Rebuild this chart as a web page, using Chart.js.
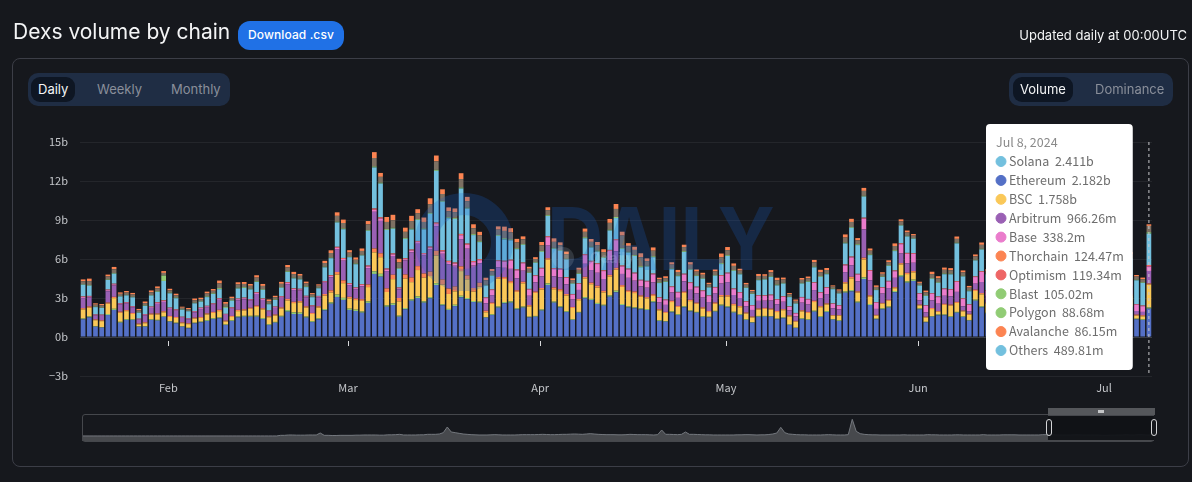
<!DOCTYPE html>
<html>
<head>
<meta charset="utf-8">
<title>Dexs volume by chain</title>
<script src="https://cdn.jsdelivr.net/npm/chart.js@4"></script>
<style>
    html, body { margin: 0; padding: 0; background: #16181d; width: 1192px; height: 482px; overflow: hidden; font-family: Inter, sans-serif; }
    .abs { position: absolute; box-sizing: border-box; }
    #title { left: 13px; top: 18px; font-size: 21px; color: #f4f5f6; line-height: 28px; white-space: nowrap; }
    #download { left: 238px; top: 21px; width: 106px; height: 29px; background: #2071e6; border-radius: 12px; color: #fff; font-size: 12px; font-weight: 500; line-height: 28px; text-align: center; letter-spacing: .1px; }
    #updated { right: 5px; top: 26px; font-size: 13px; color: #f4f5f6; line-height: 18px; white-space: nowrap; }
    #panel { left: 12px; top: 58px; width: 1177px; height: 409px; border: 1px solid #3c3e47; border-radius: 8px; }
    .tabs { top: 73px; height: 33px; background: #1f2d44; border-radius: 10px; }
    .active { top: 77px; height: 25px; background: #0e1623; border-radius: 9px; }
    .tab { top: 80px; font-size: 13px; line-height: 19px; color: #8a8f9a; white-space: nowrap; }
    .tab.on { color: #f4f5f6; }
    #chart, #minimap { position: absolute; }
    #chart { left: 0; top: 0; }
    #minimap { left: 82px; top: 415px; }
    #watermark { left: 400px; top: 185px; pointer-events: none; }
    #frame { left: 82px; top: 414px; width: 1072px; height: 28px; border: 1.5px solid #45474c; border-radius: 3px; }
    #selection { left: 1048px; top: 415px; width: 106px; height: 25px; background: rgba(16,18,22,.94); border-top: 1px solid #45474c; }
    #mover { left: 1048px; top: 408px; width: 107px; height: 7px; background: #55575b; }
    #grip { left: 1098px; top: 410px; width: 6px; height: 3px; background: #c4c5c7; }
    .handle { top: 419px; width: 6px; height: 17px; border: 1.5px solid #d4d5d7; border-radius: 3px; background: #16181d; }
</style>
</head>
<body>
<canvas id="chart" width="1192" height="482"></canvas>

<div class="abs" id="title">Dexs volume by chain</div>
<div class="abs" id="download">Download .csv</div>
<div class="abs" id="updated">Updated daily at 00:00UTC</div>
<div class="abs" id="panel"></div>

<div class="abs tabs" style="left:28px;width:202px"></div>
<div class="abs active" style="left:31px;width:44px"></div>
<div class="abs tab on" style="left:38px">Daily</div>
<div class="abs tab" style="left:97px">Weekly</div>
<div class="abs tab" style="left:171px">Monthly</div>

<div class="abs tabs" style="left:1009px;width:164px"></div>
<div class="abs active" style="left:1013px;width:60px"></div>
<div class="abs tab on" style="left:1020px">Volume</div>
<div class="abs tab" style="left:1095px">Dominance</div>

<canvas id="minimap" width="1072" height="26"></canvas>
<div class="abs" id="frame"></div>
<div class="abs" id="selection"></div>
<div class="abs" id="mover"></div>
<div class="abs" id="grip"></div>
<div class="abs handle" style="left:1046px"></div>
<div class="abs handle" style="left:1151px"></div>

<svg class="abs" id="watermark" width="390" height="110">
    <circle cx="64" cy="57" r="38" fill="none" stroke="rgba(25,95,200,0.24)" stroke-width="22"/>
    <text x="147" y="85" font-family="Inter" font-weight="700" font-size="87" textLength="228" lengthAdjust="spacingAndGlyphs" fill="rgba(25,95,200,0.24)">DAILY</text>
    <circle cx="163" cy="73" r="11" fill="rgba(200,215,235,0.16)"/>
    <text x="190" y="78" font-family="Inter" font-weight="700" font-size="14" fill="rgba(200,215,235,0.22)">Odaily</text>
</svg>

<script>
// Daily volume in billions of USD, Jan 18 to Jul 8 2024. Bars 147-170 sit behind the tooltip.
const ethereum = [
    1.36,1.51,.79,.72,1.69,2.08,1.10,1.31,1.31,.79,
    .79,1.31,1.26,1.54,1.18,1.05,.79,.67,1.05,1.13,
    1.23,1.38,1.44,.92,1.23,1.51,1.56,1.56,1.56,1.38,
    .92,1.10,1.56,1.95,1.77,1.77,1.49,1.15,1.36,2.05,
    2.56,3.08,2.85,2.08,2.00,1.87,2.62,4.85,4.64,2.33,
    2.46,1.56,2.13,2.79,3.00,2.64,2.97,4.00,2.44,2.08,
    2.38,3.05,2.90,2.69,2.64,1.49,1.69,2.26,2.59,2.64,
    2.13,2.26,1.51,1.56,2.03,4.00,2.64,2.28,1.92,1.31,
    1.87,2.97,2.85,2.54,2.41,3.10,3.44,2.46,2.28,2.21,
    2.13,2.08,2.67,1.23,1.18,1.90,1.69,2.28,1.97,1.87,
    1.54,1.51,1.95,2.41,2.28,1.87,1.69,1.31,1.10,1.56,
    1.56,1.56,1.36,1.44,.92,.69,1.38,1.31,1.95,1.54,
    1.92,1.33,1.23,3.41,3.51,2.64,4.46,2.46,1.36,2.13,
    2.26,3.44,4.64,4.18,4.31,2.13,1.13,1.56,1.67,1.67,
    1.54,1.87,1.54,1.26,2.79,2.28,
    1.8,1.6,1.9,2.4,2.0,1.5,1.7,1.4,1.6,2.1,2.6,1.9,1.5,1.7,1.3,1.5,1.8,2.2,1.7,1.4,1.2,1.5,1.9,2.3,
    1.36,1.31,2.182
];
const polygon = [
    .06,.07,.04,.04,.08,.09,.07,.06,.05,.03,
    .04,.05,.06,.05,.05,.05,.04,.04,.05,.05,
    .06,.06,.06,.04,.05,.07,.07,.07,.08,.07,
    .06,.06,.07,.12,.12,.1,.08,.06,.08,.1,
    .1,.18,.16,.1,.1,.09,.12,.2,.22,.1,
    .12,.08,.1,.1,.12,.1,.1,.14,.08,.08,
    .1,.12,.1,.08,.08,.05,.06,.08,.1,.1,
    .08,.08,.05,.06,.08,.12,.08,.07,.06,.05,
    .06,.1,.08,.08,.07,.1,.12,.08,.08,.07,
    .07,.07,.08,.05,.05,.07,.06,.08,.07,.06,
    .05,.05,.06,.08,.08,.07,.06,.05,.04,.06,
    .06,.05,.05,.06,.04,.03,.05,.05,.07,.06,
    .07,.05,.05,.09,.1,.08,.12,.08,.05,.07,
    .08,.1,.12,.1,.1,.07,.04,.05,.06,.06,
    .05,.06,.05,.05,.08,.08,
    .07,.06,.07,.08,.07,.05,.06,.05,.06,.07,.08,.07,.05,.06,.05,.05,.07,.08,.06,.05,.05,.05,.07,.08,
    .05,.05,.08868
];
const bsc = [
    .7,.67,.46,.46,.79,.82,.69,.62,.41,.15,
    .23,.36,.41,.31,.31,.36,.23,.28,.31,.28,
    .44,.41,.49,.23,.26,.41,.41,.54,.67,.67,
    .54,.49,.56,.74,.72,.79,.69,.56,.82,1.03,
    .77,1.54,1.13,.79,.74,.82,1.10,1.46,1.28,1.03,
    1.87,1.10,2.26,1.33,2.03,1.82,1.62,2.13,1.51,1.15,
    1.03,1.90,1.44,.72,1.15,.36,.79,2.15,1.77,1.41,
    1.26,1.79,.79,1.77,1.54,1.82,.95,1.18,1.21,.87,
    .9,1.44,1.13,1.18,.95,1.46,1.62,1.31,1.10,1.10,
    .9,.82,.41,.77,.62,.72,.56,1.03,.72,.62,
    .59,.36,.54,.62,.74,.51,.54,.44,.36,.49,
    .54,.49,.51,.56,.62,.46,.54,.49,.67,.69,
    .51,.26,.36,.62,.9,.69,1.38,.56,.23,.36,
    .44,.21,.82,.56,.56,.23,.33,.54,.21,.74,
    .82,.69,.38,.41,.67,.92,
    .7,.6,.8,.9,.7,.5,.6,.5,.6,.8,1.0,.7,.5,.6,.4,.5,.7,.9,.6,.5,.4,.5,.7,.8,
    .23,.23,1.758
];
const avalanche = [
    .1,.1,.06,.06,.09,.1,.09,.08,.08,.06,
    .07,.08,.08,.08,.08,.08,.06,.06,.08,.07,
    .08,.08,.1,.07,.08,.1,.09,.08,.1,.09,
    .07,.08,.09,.12,.1,.1,.1,.08,.1,.13,
    .16,.2,.22,.12,.12,.12,.2,.3,.3,.28,
    .34,.26,.32,.36,.3,.32,.34,.36,.4,.42,
    .38,.36,.3,.28,.3,.12,.1,.12,.14,.14,
    .12,.12,.1,.1,.12,.12,.14,.14,.12,.08,
    .1,.12,.12,.14,.12,.12,.14,.14,.12,.12,
    .1,.1,.12,.08,.08,.1,.08,.1,.1,.09,
    .1,.08,.1,.12,.12,.1,.09,.08,.07,.08,
    .08,.08,.08,.08,.08,.06,.08,.08,.1,.08,
    .08,.05,.05,.1,.12,.1,.14,.1,.06,.06,
    .08,.08,.1,.1,.1,.06,.06,.08,.06,.08,
    .08,.08,.06,.06,.1,.1,
    .09,.08,.09,.11,.09,.07,.08,.07,.08,.1,.12,.09,.07,.08,.06,.07,.09,.11,.08,.07,.06,.07,.09,.1,
    .08,.08,.08615
];
const arbitrum = [
    .77,.69,.31,.36,.87,.87,.56,.51,.44,.31,
    .54,.44,.74,.72,.54,.49,.36,.31,.41,.62,
    .49,.56,.77,.44,.56,.74,.77,.56,.9,.64,
    .36,.51,.74,1.13,.9,.82,.69,.49,.69,.87,
    1.0,1.72,1.51,.9,.72,1.0,1.26,2.82,2.49,1.33,
    1.44,.67,1.08,1.92,1.72,1.38,1.69,1.9,1.97,1.85,
    1.59,2.1,2.05,1.72,1.5,.58,.58,.74,.72,.95,
    .92,.85,.72,.72,.89,.97,.85,.92,.74,.57,
    .69,1,.97,1,.91,1.11,1.28,.86,.97,.83,
    .69,.72,.92,.52,.54,.63,.62,.79,.77,.71,
    .75,.69,.69,.88,1,.68,.62,.49,.51,.59,
    .55,.62,.52,.57,.39,.34,.59,.57,.82,.62,
    .72,.51,.43,.77,.89,.77,2.18,1.15,.46,.72,
    .9,.72,.74,.72,.64,.33,.33,.59,.56,.62,
    .64,.77,.33,.21,.46,.85,
    .5,.45,.55,.7,.6,.4,.5,.35,.45,.6,.8,.55,.4,.5,.3,.4,.5,.65,.45,.35,.3,.4,.5,.6,
    .28,.26,.96626
];
const base = [
    .08,.07,.05,.05,.08,.09,.06,.07,.05,.04,
    .06,.06,.08,.07,.06,.06,.05,.05,.06,.07,
    .06,.06,.08,.05,.06,.08,.08,.07,.08,.07,
    .05,.06,.08,.09,.08,.08,.07,.06,.07,.08,
    .1,.14,.13,.09,.08,.1,.12,.16,.18,.12,
    .12,.08,.1,.15,.14,.12,.14,.16,.18,.18,
    .16,.3,.3,.27,.24,.39,.39,.49,.48,.64,
    .62,.57,.48,.48,.6,.65,.57,.62,.49,.38,
    .46,.67,.65,.67,.61,.74,.85,.58,.65,.56,
    .46,.48,.62,.35,.36,.42,.41,.53,.52,.47,
    .5,.46,.46,.59,.67,.45,.41,.33,.34,.39,
    .37,.41,.35,.38,.26,.23,.39,.38,.55,.41,
    .48,.34,.29,.52,.6,.52,.82,.74,.49,.44,
    .51,.51,.72,.74,.69,.51,.51,.51,.51,.51,
    .51,.77,.56,.49,.51,.77,
    .4,.35,.45,.55,.5,.3,.4,.3,.35,.5,.65,.45,.3,.4,.25,.3,.4,.55,.35,.3,.25,.3,.4,.5,
    .49,.44,.3382
];
const optimism = [
    .05,.05,.03,.03,.05,.05,.04,.04,.04,.03,
    .04,.04,.05,.05,.04,.04,.03,.03,.04,.04,
    .04,.04,.05,.03,.04,.05,.05,.04,.05,.04,
    .03,.04,.05,.06,.05,.05,.05,.04,.04,.05,
    .06,.08,.08,.06,.05,.06,.08,.1,.1,.08,
    .08,.06,.07,.08,.08,.08,.1,.12,.1,.1,
    .09,.1,.1,.08,.08,.05,.05,.06,.07,.07,
    .07,.06,.05,.05,.06,.07,.07,.06,.06,.05,
    .05,.07,.06,.06,.06,.07,.08,.07,.06,.06,
    .05,.05,.06,.05,.05,.05,.05,.06,.05,.05,
    .05,.04,.05,.06,.06,.05,.05,.05,.04,.05,
    .05,.05,.05,.05,.04,.04,.05,.05,.05,.05,
    .05,.04,.04,.07,.07,.06,.08,.06,.04,.05,
    .05,.06,.07,.07,.06,.04,.04,.05,.05,.05,
    .05,.06,.05,.04,.05,.06,
    .05,.05,.05,.06,.05,.04,.05,.04,.05,.05,.07,.05,.04,.05,.04,.04,.05,.06,.05,.04,.04,.04,.05,.06,
    .05,.05,.11934
];
const solana = [
    .9,.79,.56,.51,.74,.77,.51,.51,.67,.46,
    .62,.85,.79,1.49,1.1,.85,.54,.54,.59,.46,
    .67,.72,.69,.46,.51,.77,.74,.74,.79,.67,
    .49,.51,.64,.79,.77,.72,.67,.62,.59,1.05,
    1.31,1.87,2.21,2,1.79,2.21,2.67,3.15,2.59,2.97,
    1.9,1.44,1.49,1.54,1.62,1.82,2.51,3.97,3.72,3.28,
    3.36,3.49,2.69,2,1.31,.92,1.05,1.87,1.64,1.49,
    1.56,1.36,1.23,.97,1.23,1.56,1.49,1.36,1.36,.79,
    .72,1.23,1.03,.9,.97,1.49,1.62,1.28,1.23,1.28,
    .97,1.1,1.26,1.1,1.36,1.33,1.21,1.67,.97,.82,
    .9,.62,.87,.85,1.28,1.36,1.36,1.03,.85,1.15,
    1.21,1.36,1.05,.97,.72,.72,1.03,1.31,1.15,1.18,
    1,1.1,.9,1.62,2.21,2.21,1.62,1.15,.92,.79,
    1.15,1.49,1.36,1.26,1.1,.59,.72,1.1,1.05,1.1,
    1.13,2.9,1.69,1,1.23,1.67,
    1.2,1.0,1.3,1.7,1.4,.9,1.1,.9,1.0,1.4,1.9,1.3,.9,1.1,.8,1.0,1.3,1.7,1.1,.9,.8,1.0,1.3,1.6,
    1.82,1.74,2.411
];
const blast = [
    .04,.05,.03,.03,.04,.05,.03,.04,.04,.03,
    .04,.04,.05,.42,.05,.05,.03,.03,.04,.04,
    .05,.05,.08,.08,.05,.06,.06,.05,.05,.05,
    .04,.04,.05,.05,.05,.05,.05,.04,.04,.05,
    .05,.06,.06,.05,.05,.05,.06,.08,.07,.07,
    .07,.06,.07,.07,.06,.07,.08,.08,.07,.07,
    .07,.08,.07,.07,.06,.05,.05,.07,.09,.07,
    .06,.06,.05,.05,.07,.06,.07,.06,.06,.05,
    .05,.07,.06,.07,.06,.07,.08,.07,.06,.06,
    .07,.06,.07,.05,.05,.05,.05,.06,.06,.05,
    .05,.04,.05,.07,.06,.06,.05,.04,.04,.05,
    .05,.05,.06,.05,.04,.04,.05,.05,.06,.06,
    .05,.04,.04,.06,.06,.06,.06,.05,.04,.04,
    .05,.06,.05,.05,.04,.04,.05,.06,.05,.05,
    .05,.05,.05,.05,.05,.06,
    .05,.05,.05,.06,.05,.04,.05,.04,.05,.05,.06,.05,.04,.05,.04,.04,.05,.06,.05,.04,.04,.04,.05,.05,
    .05,.05,.10502
];
const others = [
    .23,.3,.16,.17,.23,.29,.17,.18,.18,.16,
    .18,.21,.23,.2,.18,.18,.12,.13,.2,.16,
    .23,.2,.36,.23,.16,.26,.25,.23,.29,.25,
    .2,.17,.25,.3,.28,.23,.23,.17,.16,.28,
    .35,.45,.42,.3,.29,.3,.43,.65,.45,.54,
    .58,.43,.47,.58,.46,.5,.67,.65,.53,.46,
    .45,.65,.5,.46,.45,.35,.3,.42,.56,.53,
    .45,.37,.27,.24,.43,.39,.46,.37,.35,.23,
    .27,.42,.37,.42,.37,.52,.62,.95,.42,.41,
    .7,.36,.43,.23,.24,.3,.27,.32,.33,.29,
    .26,.2,.27,.46,.39,.32,.24,.21,.17,.27,
    .23,.3,.33,.26,.17,.17,.24,.23,.32,.3,
    .27,.16,.17,.39,.39,.3,.38,.29,.2,.2,
    .24,.33,.27,.26,.2,.16,.23,.3,.29,.29,
    .27,.3,.26,.23,.26,.3,
    .22,.2,.24,.3,.24,.18,.2,.17,.2,.26,.34,.24,.17,.2,.15,.18,.24,.3,.2,.17,.15,.18,.24,.28,
    .24,.24,.48981
];
const thorchain = [
    .14,.19,.1,.11,.14,.18,.11,.12,.12,.1,
    .12,.14,.14,.14,.12,.12,.08,.09,.13,.1,
    .14,.13,.22,.14,.1,.16,.15,.14,.18,.15,
    .13,.11,.15,.19,.17,.14,.14,.11,.1,.17,
    .21,.27,.26,.19,.18,.19,.26,.45,.3,.38,
    .42,.28,.32,.4,.3,.34,.45,.45,.36,.3,
    .28,.45,.33,.3,.28,.2,.17,.25,.33,.33,
    .28,.22,.15,.14,.26,.22,.27,.22,.2,.13,
    .16,.25,.22,.25,.22,.3,.38,.3,.25,.24,
    .3,.21,.25,.13,.14,.18,.16,.18,.2,.17,
    .15,.12,.16,.28,.24,.19,.14,.13,.1,.16,
    .13,.18,.2,.15,.1,.1,.14,.13,.19,.18,
    .16,.09,.1,.24,.24,.18,.23,.17,.12,.12,
    .14,.2,.16,.15,.12,.09,.13,.18,.17,.17,
    .16,.18,.15,.13,.15,.18,
    .14,.12,.15,.18,.14,.1,.12,.1,.12,.15,.2,.14,.1,.12,.09,.1,.14,.18,.12,.1,.09,.1,.14,.16,
    .12,.12,.12447
];

// Whole history for the slider underneath, same unit
const history = [
    .1,.1,.1,.1,.1,.1,.1,.1,.1,.1,.1,.1,.1,.1,.1,.1,.1,.1,.1,.1,.1,.1,.1,.1,.1,
    .1,.1,.1,.1,.1,.1,.1,.1,.1,.1,.1,.1,.1,.1,.1,.1,.1,.1,.1,.1,.1,.1,.1,.1,.1,
    2,2,3,3,2.5,2.5,2.5,3,3,3,9,2,2,1.5,1.5,2,2,2,2,2.5,2.5,3,3,3,3,2.5,2.5,3.5,3.5,4,5,3,3,3,3,3.5,3.5,5,5,5,6,
    10,27,12,10,8,6,5,4,
    3.5,3,3,3,3.5,4,3.5,3,3,3,3,3.5,4,4,4,4,4.5,5,4.5,4,4,4.5,5,5,5.5,6,5.5,5,6,7,6,5,4.5,4,4,4,3.5,3.5,4,5,4.5,4,4,4,3.5,3,
    4,18,5,5,4.5,4,5,12,5,5,4.5,4,3.5,3.5,3,3,3,3,3,3,3.5,3.5,4,4,3.5,3,3.5,3.5,4.5,6,9,26,10,6,5,4,3.5,3.5,3,3,3,3,3.5,4,3.5,3,3,3,4,
    50,14,7,5,4,3.5,3.5,
    3,3,3,3,3,3,3.5,3,3,3,
    3,3,4,3.5,3.5,3,3,3,3,3.5,
    3.5,3,3,3,3,3,4,3,3,3,
    3,3.5,3.5,3.5,3.5,3,3,3,3,3,
    3,4,4,3.5,3.5,3,3,3,3,3.5,
    3.5,3,3,3,3,3,2,2,2.5,2.5,
    3,3,4,3,3,4,4,3,3,3
];

const yTicks = [-3, 0, 3, 6, 9, 12, 15];
const tooltipOrder = ['Solana', 'Ethereum', 'BSC', 'Arbitrum', 'Base', 'Thorchain', 'Optimism', 'Blast', 'Polygon', 'Avalanche', 'Others'];
const dotColors = { Others: '#73c0de' };

const labels = [];
for (let d = new Date(Date.UTC(2024, 0, 18)); labels.length < ethereum.length; d.setUTCDate(d.getUTCDate() + 1)) {
    labels.push(new Date(d));
}

function formatVolume(v) {
    return v >= 1 ? v.toFixed(3) + 'b' : +(v * 1000).toFixed(2) + 'm';
}

// tick marks under the zero line and the dashed line on the hovered day
const axisMarks = {
    id: 'axisMarks',
    afterDatasetsDraw(chart) {
        const { ctx, scales: { x, y } } = chart;
        ctx.save();
        ctx.strokeStyle = '#d8d9db';
        ctx.lineWidth = 1;
        labels.forEach((d, i) => {
            if (d.getUTCDate() !== 1) return;
            const px = Math.round(x.getPixelForValue(i) - 1.5) + 0.5;
            ctx.beginPath();
            ctx.moveTo(px, y.getPixelForValue(0) + 4);
            ctx.lineTo(px, y.getPixelForValue(0) + 9);
            ctx.stroke();
        });
        const last = x.getPixelForValue(labels.length - 1);
        ctx.setLineDash([3, 3]);
        ctx.strokeStyle = '#c8c9cc';
        ctx.beginPath();
        ctx.moveTo(last, y.top);
        ctx.lineTo(last, y.bottom);
        ctx.stroke();
        ctx.restore();
    }
};

Chart.Tooltip.positioners.fixedBox = function() {
    return { x: 990, y: 124 };
};

const series = [
    ['Ethereum', ethereum, '#5470c6'],
    ['Polygon', polygon, '#91cc75'],
    ['BSC', bsc, '#fac858'],
    ['Avalanche', avalanche, '#fc8452'],
    ['Arbitrum', arbitrum, '#9a60b4'],
    ['Base', base, '#ea7ccc'],
    ['Optimism', optimism, '#ee6666'],
    ['Solana', solana, '#73c0de'],
    ['Blast', blast, '#91cc75'],
    ['Others', others, '#7d7063'],
    ['Thorchain', thorchain, '#fc8452']
];

const chart = new Chart(document.getElementById('chart'), {
    type: 'bar',
    data: {
        labels: labels,
        datasets: series.map(s => ({
            label: s[0],
            data: s[1],
            backgroundColor: s[2],
            borderWidth: 0,
            stack: 'volume',
            categoryPercentage: 1,
            barPercentage: 0.76
        }))
    },
    plugins: [axisMarks],
    options: {
        responsive: false,
        animation: false,
        layout: { padding: { top: 142, right: 40, bottom: 70, left: 0 } },
        interaction: { mode: 'index', intersect: false },
        plugins: {
            legend: { display: false },
            tooltip: {
                position: 'fixedBox',
                xAlign: 'left',
                yAlign: 'top',
                caretSize: 0,
                caretPadding: 0,
                backgroundColor: '#ffffff',
                cornerRadius: 4,
                padding: { left: 10, right: 9, top: 11, bottom: 12 },
                titleColor: '#8a8a8a',
                bodyColor: '#6e6e6e',
                titleFont: { family: 'Noto Sans CJK SC', size: 12.5, weight: 'normal' },
                bodyFont: { family: 'Noto Sans CJK SC', size: 12.5 },
                titleMarginBottom: 4,
                bodySpacing: 3.9,
                boxWidth: 10,
                boxHeight: 10,
                boxPadding: 1,
                usePointStyle: true,
                itemSort: (a, b) => tooltipOrder.indexOf(a.dataset.label) - tooltipOrder.indexOf(b.dataset.label),
                callbacks: {
                    title: items => 'Jul 8, 2024',
                    label: item => item.dataset.label + '  ' + formatVolume(item.raw),
                    labelPointStyle: () => ({ pointStyle: 'circle', rotation: 0 }),
                    labelColor: item => {
                        const c = dotColors[item.dataset.label] || item.dataset.backgroundColor;
                        return { borderColor: c, backgroundColor: c };
                    }
                }
            }
        },
        scales: {
            x: {
                stacked: true,
                afterFit: scale => { scale.height = 36; },
                grid: { display: false, drawTicks: false, tickLength: 0 },
                border: { display: false },
                ticks: {
                    autoSkip: false,
                    maxRotation: 0,
                    padding: 5,
                    labelOffset: -1.5,
                    color: '#c3c5c9',
                    font: { family: 'Noto Sans CJK SC', size: 11 },
                    callback: function(value) {
                        const d = labels[value];
                        return d.getUTCDate() === 1 ? d.toLocaleString('en-US', { month: 'short', timeZone: 'UTC' }) : '';
                    }
                }
            },
            y: {
                stacked: true,
                min: yTicks[0],
                max: yTicks[yTicks.length - 1],
                afterFit: scale => { scale.width = 80; },
                border: { display: false },
                grid: {
                    drawTicks: false,
                    color: ctx => ctx.tick.value === 0 ? '#3a3d44' : '#24262b'
                },
                ticks: {
                    stepSize: 3,
                    padding: 12,
                    color: '#c3c5c9',
                    font: { family: 'Noto Sans CJK SC', size: 11 },
                    callback: v => (v < 0 ? '\u2212' + (-v) : v) + 'b'
                }
            }
        }
    }
});

const active = series.map((s, i) => ({ datasetIndex: i, index: labels.length - 1 }));
chart.tooltip.setActiveElements(active, { x: 1150, y: 250 });
chart.update();

new Chart(document.getElementById('minimap'), {
    type: 'line',
    data: {
        labels: history.map((v, i) => i),
        datasets: [{
            data: history,
            borderColor: '#74787e',
            borderWidth: 1,
            backgroundColor: '#47494d',
            fill: 'start',
            pointRadius: 0,
            tension: 0
        }]
    },
    options: {
        responsive: false,
        animation: false,
        layout: { padding: 0 },
        plugins: { legend: { display: false }, tooltip: { enabled: false } },
        scales: {
            x: { display: false },
            y: { display: false, min: -15, max: 63 }
        }
    }
});
</script>
</body>
</html>
